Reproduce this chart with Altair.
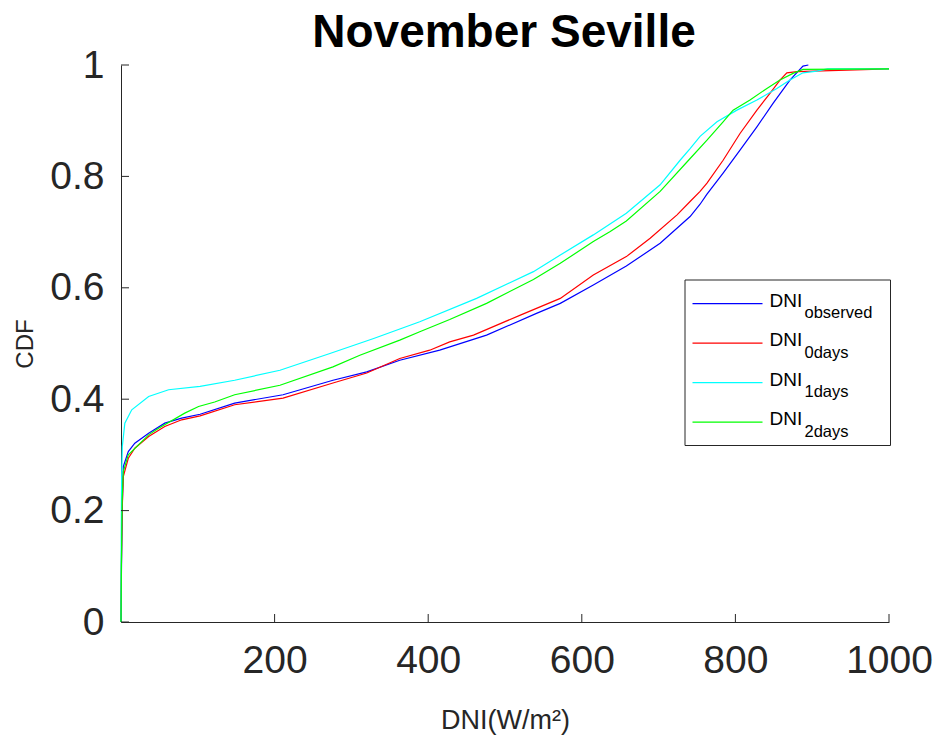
import altair as alt
import pandas as pd

# ---------------- data ----------------
series_names = ["observed", "0days", "1days", "2days"]
series_colors = ["#0000ff", "#ff0000", "#00ffff", "#00ff00"]

obs_x = [0, 0.5, 1.5, 3, 9.5, 18, 36, 57, 79, 103, 148, 211, 276, 320, 363, 415,
         476, 541, 572, 615, 658, 702, 741, 754, 763, 784, 806, 828, 849, 871, 888, 895]
obs_y = [0, 0.08, 0.2, 0.279, 0.306, 0.321, 0.339, 0.357, 0.366, 0.373, 0.393, 0.408,
         0.434, 0.449, 0.470, 0.488, 0.515, 0.554, 0.572, 0.605, 0.639, 0.680, 0.728,
         0.750, 0.768, 0.806, 0.847, 0.889, 0.931, 0.973, 0.998, 1.0]

d0_x = [0, 0.5, 1.5, 3, 9.5, 18, 36, 57, 79, 103, 148, 211, 276, 320, 363, 402, 428,
        459, 520, 572, 615, 658, 689, 724, 741, 754, 763, 784, 806, 828, 845, 858,
        867, 880, 1000]
d0_y = [0, 0.1, 0.2, 0.261, 0.294, 0.312, 0.333, 0.351, 0.363, 0.370, 0.390, 0.402,
        0.429, 0.447, 0.473, 0.488, 0.503, 0.515, 0.551, 0.581, 0.623, 0.656, 0.689,
        0.731, 0.755, 0.773, 0.788, 0.829, 0.877, 0.919, 0.949, 0.973, 0.986, 0.988,
        0.993]

d1_x = [0, 0.3, 0.8, 1.7, 5, 14, 36, 62, 103, 148, 207, 272, 329, 389, 463, 537, 572,
        615, 658, 702, 728, 741, 754, 776, 802, 828, 854, 871, 888, 906, 920, 1000]
d1_y = [0, 0.15, 0.26, 0.315, 0.357, 0.381, 0.405, 0.417, 0.423, 0.434, 0.452, 0.482,
        0.509, 0.539, 0.581, 0.629, 0.659, 0.695, 0.734, 0.785, 0.829, 0.850, 0.872,
        0.898, 0.919, 0.937, 0.958, 0.973, 0.986, 0.989, 0.993, 0.993]

d2_x = [0, 0.5, 1.5, 3, 9.5, 36, 49, 83, 101, 122, 148, 207, 276, 311, 363, 389, 428,
        476, 537, 572, 615, 637, 658, 702, 739, 763, 784, 797, 819, 841, 858, 875, 888,
        1000]
d2_y = [0, 0.1, 0.22, 0.27, 0.30, 0.336, 0.348, 0.375, 0.387, 0.395, 0.408, 0.425,
        0.458, 0.479, 0.506, 0.521, 0.543, 0.572, 0.615, 0.644, 0.683, 0.701, 0.720,
        0.773, 0.829, 0.865, 0.898, 0.919, 0.937, 0.958, 0.973, 0.985, 0.992, 0.993]

x_ticks = [200, 400, 600, 800, 1000]
y_ticks = [0, 0.2, 0.4, 0.6, 0.8, 1]

title_text = "November Seville"
x_title = "DNI(W/m²)"
y_title = "CDF"
legend_main = "DNI"

# ---------------- layout / style ----------------
W, H = 768, 557
FONT = "Liberation Sans"
AX = "#262626"

xscale = alt.Scale(domain=[0, 1000], nice=False, zero=False)
yscale = alt.Scale(domain=[0, 1], nice=False)

xaxis = alt.Axis(values=x_ticks, ticks=False, grid=False, domainColor=AX, domainWidth=1,
                 format="d", labelFont=FONT, labelFontSize=39, labelColor=AX,
                 labelPadding=19, labelFlush=False, labelOverlap=False,
                 title=x_title, titleFont=FONT, titleFontSize=27, titleFontWeight="normal",
                 titleColor=AX, titleY=106, titleBaseline="alphabetic")
yaxis = alt.Axis(values=y_ticks, ticks=False, grid=False, domainColor=AX, domainWidth=1,
                 format="~g", labelFont=FONT, labelFontSize=39, labelColor=AX,
                 labelPadding=17, labelFlush=False, labelOverlap=False,
                 title=y_title, titleFont=FONT, titleFontSize=24, titleFontWeight="normal",
                 titleColor=AX, titleX=-96, titleBaseline="middle")

layers = []
all_series = [(obs_x, obs_y), (d0_x, d0_y), (d1_x, d1_y), (d2_x, d2_y)]
for (xs, ys), col in zip(all_series, series_colors):
    d = pd.DataFrame({"x": xs, "y": ys, "i": list(range(len(xs)))})
    layers.append(
        alt.Chart(d).mark_line(color=col, strokeWidth=1.2).encode(
            x=alt.X("x:Q", scale=xscale, axis=xaxis),
            y=alt.Y("y:Q", scale=yscale, axis=yaxis),
            order="i:Q",
        )
    )

# inward ticks (MATLAB style)
xt = pd.DataFrame({"x": x_ticks})
layers.append(alt.Chart(xt).mark_rule(color=AX, strokeWidth=1).encode(
    x=alt.X("x:Q", scale=xscale, axis=xaxis), y=alt.value(H), y2=alt.value(H - 8)))
yt = pd.DataFrame({"y": y_ticks})
layers.append(alt.Chart(yt).mark_rule(color=AX, strokeWidth=1).encode(
    y=alt.Y("y:Q", scale=yscale, axis=yaxis), x=alt.value(0), x2=alt.value(8)))

# title as a text mark above the plot
layers.append(alt.Chart(pd.DataFrame({"t": [title_text]})).mark_text(
    font=FONT, fontSize=46, fontWeight="bold", color="black", align="center",
    baseline="alphabetic").encode(x=alt.value(W / 2 - 1), y=alt.value(-18), text="t:N"))

# custom legend with subscripts
box = pd.DataFrame({"a": [0]})
layers.append(alt.Chart(box).mark_rect(fill="white", stroke=AX, strokeWidth=1).encode(
    x=alt.value(564), x2=alt.value(769.5), y=alt.value(215), y2=alt.value(380.5)))
for k, (nm, col) in enumerate(zip(series_names, series_colors)):
    dy = 39.5 * k
    layers.append(alt.Chart(box).mark_rule(color=col, strokeWidth=1.2).encode(
        x=alt.value(571.5), x2=alt.value(641.5),
        y=alt.value(238.7 + dy)))
    layers.append(alt.Chart(pd.DataFrame({"t": [legend_main]})).mark_text(
        font=FONT, fontSize=19, color="black", align="left", baseline="alphabetic").encode(
        x=alt.value(648.5), y=alt.value(241.5 + dy), text="t:N"))
    layers.append(alt.Chart(pd.DataFrame({"t": [nm]})).mark_text(
        font=FONT, fontSize=16.5, color="black", align="left", baseline="alphabetic").encode(
        x=alt.value(683.5), y=alt.value(253 + dy), text="t:N"))

chart = alt.layer(*layers).properties(
    width=W, height=H,
    autosize=alt.AutoSizeParams(type="none"),
    padding={"left": 121, "top": 65, "right": 48, "bottom": 116},
    background="white",
).configure_view(stroke=None)

chart.save("out.html", embed_options={"renderer": "svg", "actions": False})
